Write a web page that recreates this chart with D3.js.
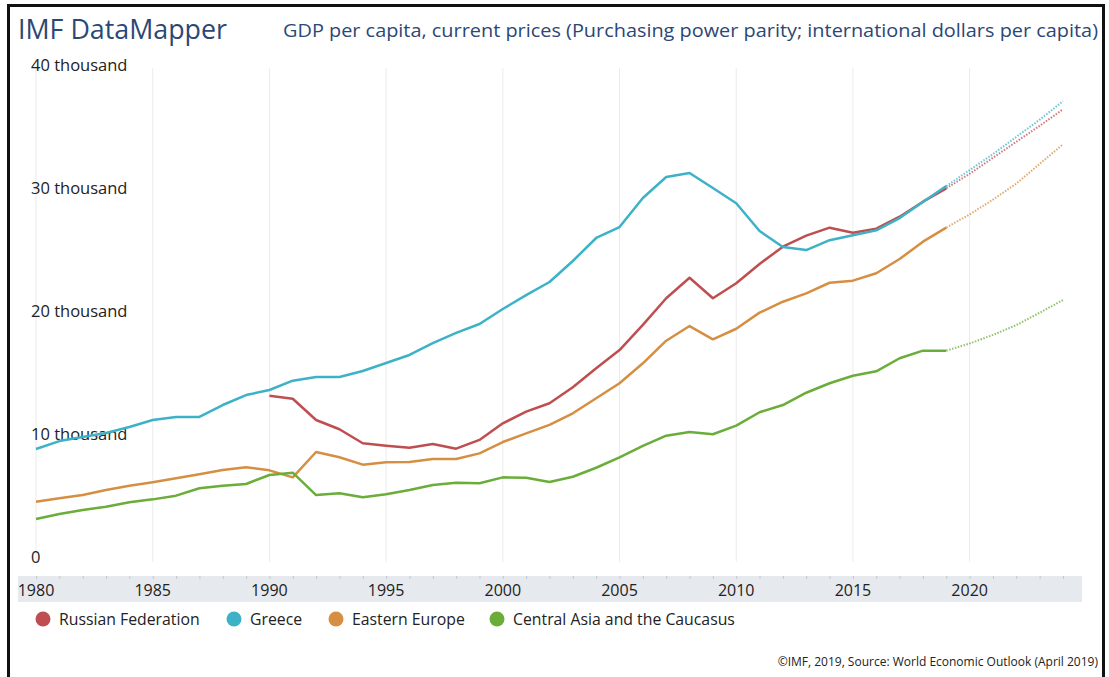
<!DOCTYPE html>
<html>
<head>
<meta charset="utf-8">
<script src="https://cdn.jsdelivr.net/npm/d3@7"></script>
<style>
    body { margin: 0; background: #fff; }
    svg { display: block; font-family: 'Open Sans', sans-serif; }
</style>
</head>
<body>
<svg id="chart" width="1109" height="677"></svg>
<script>
// data (values in international dollars)

const years = d3.range(1980, 2025)
const lastActual = 2019

const russia = [
    null, null, null, null, null, null, null, null, null, null,
    13360, 13110, 11380, 10630, 9490, 9290, 9130, 9430, 9050, 9760,
    11110, 12060, 12740, 14040, 15590, 17070, 19110, 21280, 22950, 21280,
    22500, 24070, 25470, 26370, 27020, 26610, 26940, 27910, 29130, 30220,
    31400, 32700, 34000, 35300, 36640
]

const greece = [
    9020, 9670, 10000, 10330, 10810, 11380, 11630, 11630, 12600, 13410,
    13820, 14580, 14880, 14880, 15370, 16020, 16670, 17640, 18460, 19190,
    20410, 21540, 22600, 24310, 26180, 27070, 29430, 31140, 31460, 30240,
    29000, 26750, 25450, 25200, 26000, 26400, 26800, 27800, 29100, 30400,
    31700, 33000, 34400, 35800, 37300
]

const easternEurope = [
    4740, 5020, 5280, 5690, 6040, 6320, 6640, 6970, 7320, 7540,
    7290, 6720, 8780, 8350, 7750, 7940, 7970, 8210, 8210, 8670,
    9590, 10300, 10980, 11930, 13150, 14370, 15990, 17830, 19020, 17940,
    18800, 20110, 21000, 21680, 22540, 22710, 23310, 24470, 25880, 27020,
    28100, 29300, 30600, 32200, 33800
]

const centralAsia = [
    3330, 3740, 4070, 4330, 4690, 4930, 5230, 5830, 6040, 6180,
    6910, 7100, 5280, 5420, 5100, 5340, 5690, 6100, 6280, 6240,
    6720, 6690, 6340, 6770, 7500, 8350, 9270, 10110, 10410, 10220,
    10930, 12010, 12600, 13600, 14370, 14980, 15340, 16400, 17020, 17020,
    17600, 18300, 19100, 20100, 21140
]

const seriesNames  = ['Russian Federation', 'Greece', 'Eastern Europe', 'Central Asia and the Caucasus']
const seriesValues = [russia, greece, easternEurope, centralAsia]
const seriesColors = ['#bf4e50', '#3db2c7', '#d68f42', '#6aad38']

const yTicks      = [0, 10000, 20000, 30000, 40000]
const yTickLabels = ['0', '10 thousand', '20 thousand', '30 thousand', '40 thousand']
const xTicks      = d3.range(1980, 2021, 5)

const titleText    = 'IMF DataMapper'
const subtitleText = 'GDP per capita, current prices (Purchasing power parity; international dollars per capita)'
const footerText   = '\u00a9IMF, 2019, Source: World Economic Outlook (April 2019)'


class ChartView{

    constructor(){
        this.svg = d3.select('#chart')
        this.xScale = d3.scaleLinear().domain([1980, 2024]).range([36, 1063])
        this.yScale = d3.scaleLinear().domain([0, 40000]).range([560, 68])
    }

    draw_Frame(){
        this.svg.append('rect')
            .attr('x', 8.5).attr('y', 5.5)
            .attr('width', 1095).attr('height', 690)
            .attr('fill', 'none')
            .attr('stroke', '#111')
            .attr('stroke-width', 3)

        this.svg.append('text')
            .attr('x', 18).attr('y', 39)
            .attr('font-size', 26.8)
            .attr('fill', '#2b4775')
            .text(titleText)

        this.svg.append('text')
            .attr('x', 1098).attr('y', 37)
            .attr('text-anchor', 'end')
            .attr('font-size', 17.5)
            .attr('textLength', 815)
            .attr('lengthAdjust', 'spacingAndGlyphs')
            .attr('fill', '#2b4775')
            .text(subtitleText)

        this.svg.append('text')
            .attr('x', 1098).attr('y', 666)
            .attr('text-anchor', 'end')
            .attr('font-size', 12)
            .attr('fill', '#222')
            .text(footerText)
    }

    draw_Grid(){
        this.svg.append('g')
            .selectAll('line')
            .data(xTicks)
            .join('line')
            .attr('x1', d => this.xScale(d)).attr('x2', d => this.xScale(d))
            .attr('y1', this.yScale(40000)).attr('y2', 562)
            .attr('stroke', '#ebebeb')
            .attr('stroke-width', 1)

        // y labels sit just above their value, no axis line
        this.svg.append('g')
            .selectAll('text')
            .data(yTicks)
            .join('text')
            .attr('x', 31)
            .attr('y', d => this.yScale(d) + 3)
            .attr('font-size', 16.5)
            .attr('fill', '#222')
            .text((d, i) => yTickLabels[i])
    }

    draw_XAxis(){
        this.svg.append('rect')
            .attr('x', 18).attr('y', 576)
            .attr('width', 1064).attr('height', 26)
            .attr('fill', '#e6e9ed')

        const axis = d3.axisTop(this.xScale)
            .tickValues(d3.range(1980, 2025))
            .tickSize(3)
            .tickFormat('')

        const g = this.svg.append('g')
            .attr('transform', 'translate(0,576)')
            .call(axis)
        g.select('.domain').remove()
        g.selectAll('line').attr('stroke', '#c4c8cc').attr('transform', 'translate(0,3)')

        this.svg.append('g')
            .selectAll('text')
            .data(xTicks)
            .join('text')
            .attr('x', d => this.xScale(d))
            .attr('y', 596)
            .attr('text-anchor', 'middle')
            .attr('font-size', 16)
            .attr('fill', '#222')
            .text(d => d)
    }

    draw_Lines(){
        const rows = seriesValues.map(values =>
            years.map((year, i) => ({year: year, value: values[i]}))
        )

        const line = d3.line()
            .defined(d => d.value !== null)
            .x(d => this.xScale(d.year))
            .y(d => this.yScale(d.value))

        const groups = this.svg.append('g')
            .selectAll('g')
            .data(rows)
            .join('g')

        // projections first, dotted
        groups.append('path')
            .attr('d', d => line(d.filter(p => p.year >= lastActual)))
            .attr('fill', 'none')
            .attr('stroke', (d, i) => seriesColors[i])
            .attr('stroke-width', 2)
            .attr('stroke-dasharray', '1.5,1.5')
            .attr('opacity', 0.75)

        groups.append('path')
            .attr('d', d => line(d.filter(p => p.year <= lastActual)))
            .attr('fill', 'none')
            .attr('stroke', (d, i) => seriesColors[i])
            .attr('stroke-width', 2.5)
            .attr('stroke-linejoin', 'round')
    }

    draw_Legend(){
        const positions = [43, 234, 336, 497]

        const items = this.svg.append('g')
            .selectAll('g')
            .data(seriesNames)
            .join('g')
            .attr('transform', (d, i) => `translate(${positions[i]},619)`)

        items.append('circle')
            .attr('r', 7.5)
            .attr('fill', (d, i) => seriesColors[i])

        items.append('text')
            .attr('x', 16)
            .attr('y', 5.5)
            .attr('font-size', 15.8)
            .attr('fill', '#222')
            .text(d => d)
    }
}

const chart = new ChartView()
chart.draw_Frame()
chart.draw_Grid()
chart.draw_XAxis()
chart.draw_Lines()
chart.draw_Legend()
</script>
</body>
</html>
